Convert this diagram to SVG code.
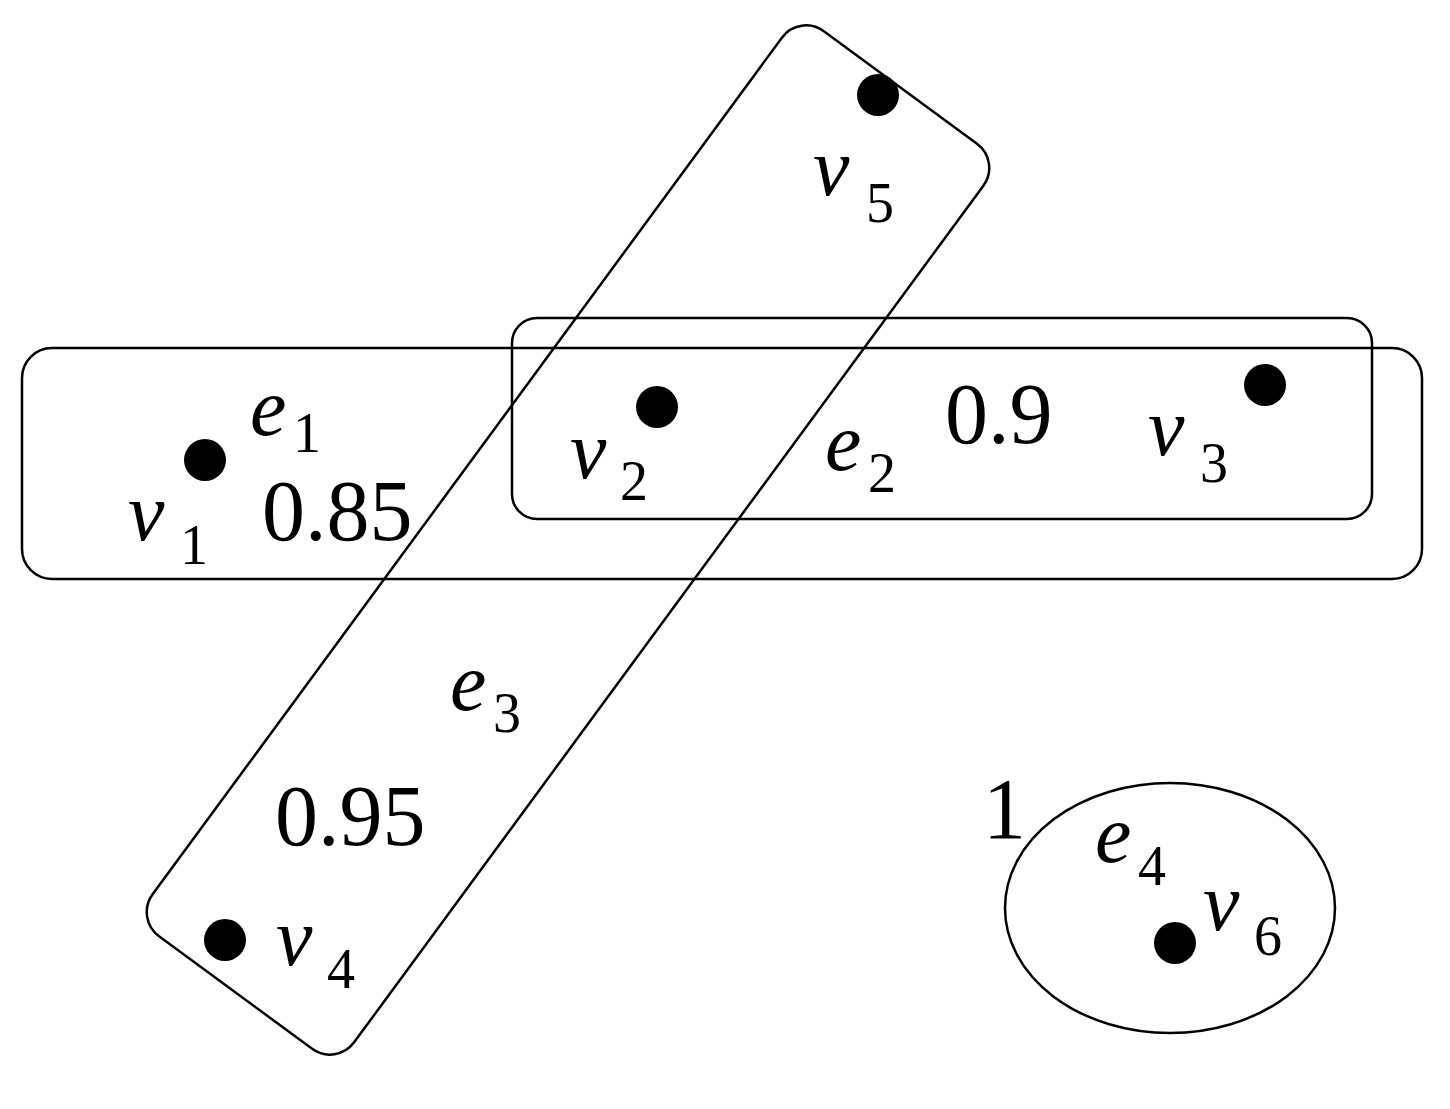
<svg xmlns="http://www.w3.org/2000/svg" width="1450" height="1109" viewBox="0 0 1450 1109">
<style>
.edge{fill:none;stroke:#000;stroke-width:2.5}
.dot{fill:#000}
.m{font-family:"Liberation Serif",serif;font-style:italic;font-size:82px}
.s{font-family:"Liberation Serif",serif;font-size:56px}
.n{font-family:"Liberation Serif",serif;font-size:86px}
</style>
<rect width="1450" height="1109" fill="#fff"/>
<g id="connectors"></g>
<g id="e1"><rect class="edge" x="22" y="348" width="1400" height="231" rx="30"/>
<text class="m" x="250" y="435">e</text><text class="s" x="293" y="452">1</text>
<text class="n" x="262" y="540">0.85</text></g>
<g id="e2"><rect class="edge" x="512" y="318" width="860" height="201" rx="25"/>
<text class="m" x="825" y="470">e</text><text class="s" x="868" y="492">2</text>
<text class="n" x="945" y="443">0.9</text></g>
<g id="e3"><rect class="edge" x="-40" y="-125" width="1123" height="250" rx="30" transform="translate(568,540) rotate(-53.7) translate(-521.5,0)"/>
<text class="m" x="450" y="710">e</text><text class="s" x="493" y="732">3</text>
<text class="n" x="275" y="845">0.95</text></g>
<g id="e4"><ellipse class="edge" cx="1170" cy="908" rx="165" ry="125"/>
<text class="n" x="983" y="838">1</text>
<text class="m" x="1095" y="862">e</text><text class="s" x="1138" y="885">4</text></g>
<g id="v1"><circle class="dot" cx="205" cy="460" r="21"/><text class="m" x="128" y="540">v</text><text class="s" x="180" y="564">1</text></g>
<g id="v2"><circle class="dot" cx="657" cy="407" r="21"/><text class="m" x="570" y="478">v</text><text class="s" x="620" y="500">2</text></g>
<g id="v3"><circle class="dot" cx="1265" cy="385" r="21"/><text class="m" x="1148" y="455">v</text><text class="s" x="1200" y="482">3</text></g>
<g id="v4"><circle class="dot" cx="225" cy="940" r="21"/><text class="m" x="276" y="965">v</text><text class="s" x="327" y="988">4</text></g>
<g id="v5"><circle class="dot" cx="878" cy="95" r="21"/><text class="m" x="813" y="195">v</text><text class="s" x="866" y="222">5</text></g>
<g id="v6"><circle class="dot" cx="1175" cy="943" r="21"/><text class="m" x="1203" y="930">v</text><text class="s" x="1254" y="955">6</text></g>
</svg>
